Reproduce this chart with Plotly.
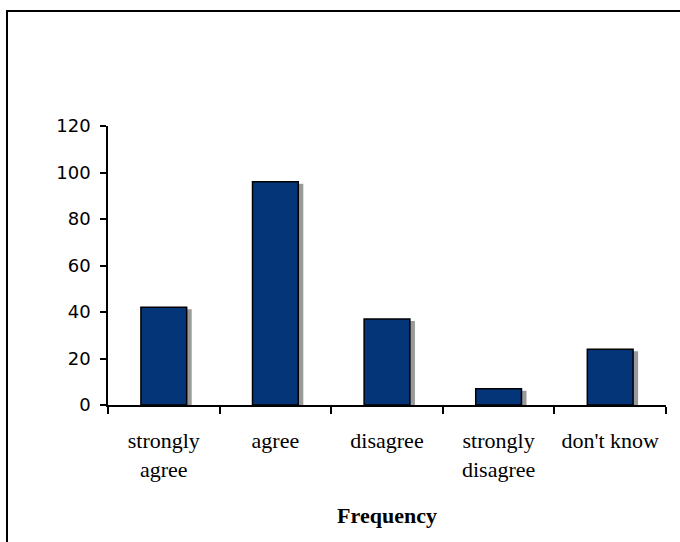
import plotly.graph_objects as go

# Survey responses
categories = ["strongly<br>agree", "agree", "disagree", "strongly<br>disagree", "don't know"]
frequency = [42, 96, 37, 7, 24]
y_ticks = [0, 20, 40, 60, 80, 100, 120]

W, H = 680, 542
L, R, T, B = 108, 14, 126, 137
plot_w, plot_h = W - L - R, H - T - B

bar_w = 0.41
shadow_dx = 0.045          # shadow shift to the right, in category units
shadow_dy = 2 * 120 / plot_h  # shadow drop of ~2px, in data units

fig = go.Figure()

# drop shadow behind each bar
fig.add_trace(go.Bar(
    x=categories,
    y=[v - shadow_dy for v in frequency],
    width=bar_w,
    offset=-bar_w / 2 + shadow_dx,
    marker=dict(color="#9a9a9a", line=dict(width=0)),
    hoverinfo="skip",
    showlegend=False,
))

fig.add_trace(go.Bar(
    x=categories,
    y=frequency,
    width=bar_w,
    offset=-bar_w / 2,
    marker=dict(color="#043579", line=dict(color="black", width=1.5)),
    showlegend=False,
))


def px_to_paper_x(px):
    return (px - L) / plot_w


def px_to_paper_y(py):
    return (H - B - py) / plot_h


# outer frame (left and top edges)
frame = dict(type="line", xref="paper", yref="paper", line=dict(color="black", width=2))
fig.add_shape(**frame, x0=px_to_paper_x(7), x1=px_to_paper_x(7),
              y0=px_to_paper_y(11), y1=px_to_paper_y(H + 5))
fig.add_shape(**frame, x0=px_to_paper_x(6), x1=px_to_paper_x(W + 5),
              y0=px_to_paper_y(11), y1=px_to_paper_y(11))

fig.update_layout(
    width=W, height=H,
    margin=dict(l=L, r=R, t=T, b=B),
    paper_bgcolor="white",
    plot_bgcolor="white",
    barmode="overlay",
    xaxis=dict(
        type="category",
        range=[-0.5, 4.5],
        tickson="boundaries",
        ticks="outside",
        ticklen=7,
        tickwidth=1.5,
        tickcolor="black",
        showline=True,
        linecolor="black",
        linewidth=1.5,
        showgrid=False,
        ticklabelstandoff=15,
        tickfont=dict(family="Liberation Serif, Times New Roman, serif", size=22, color="black"),
        title=dict(text="<b>Frequency</b>",
                   font=dict(family="Liberation Serif, Times New Roman, serif", size=22, color="black"),
                   standoff=27),
    ),
    yaxis=dict(
        range=[0, 120],
        tickvals=y_ticks,
        ticks="outside",
        ticklen=6,
        tickwidth=1.5,
        tickcolor="black",
        showline=True,
        linecolor="black",
        linewidth=1.5,
        showgrid=False,
        zeroline=False,
        ticklabelstandoff=6,
        tickfont=dict(family="DejaVu Sans", size=18, color="black"),
    ),
)

fig.write_html("out.html")
